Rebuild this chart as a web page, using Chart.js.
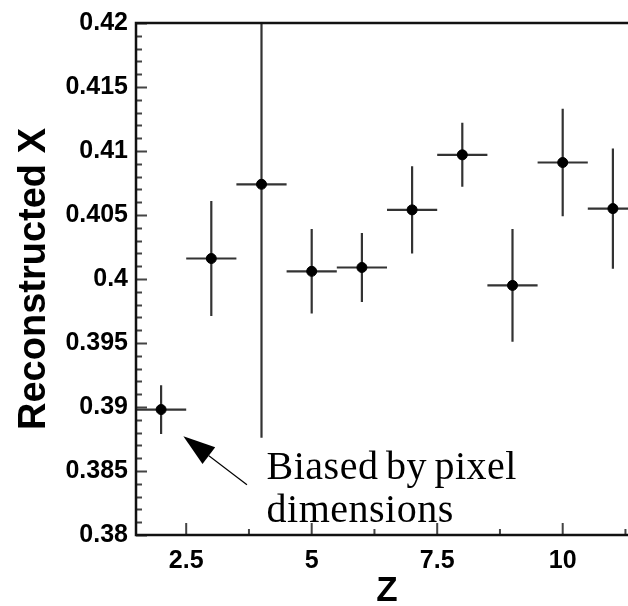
<!DOCTYPE html>
<html>
<head>
<meta charset="utf-8">
<script src="https://cdn.jsdelivr.net/npm/chart.js@4/dist/chart.umd.min.js"></script>
<style>
  html, body { margin: 0; padding: 0; background: #fff; width: 628px; height: 606px; overflow: hidden; }
  #wrap { width: 644px; height: 606px; position: relative; }
</style>
</head>
<body>
<div id="wrap"><canvas id="myChart"></canvas></div>
<script>
'use strict';
// reconstructed X versus Z, with error bars
let zValues = [2, 3, 4, 5, 6, 7, 8, 9, 10, 11];
let zErrors = [0.5, 0.5, 0.5, 0.5, 0.5, 0.5, 0.5, 0.5, 0.5, 0.5];
let recoX = [0.3898, 0.4016, 0.4074, 0.4006, 0.4009, 0.4054, 0.4097, 0.3995, 0.4091, 0.4055];
let recoXErrors = [0.0019, 0.0045, 0.0198, 0.0033, 0.0027, 0.0034, 0.0025, 0.0044, 0.0042, 0.0047];

let zTicks = [2.5, 5, 7.5, 10];
let zMinorTicks = [3.75, 6.25, 8.75, 11.25];
let yTicks = [0.38, 0.385, 0.39, 0.395, 0.4, 0.405, 0.41, 0.415, 0.42];
let yMinorStep = 0.001;

// annotation (in data units)
let noteText = ['Biased by pixel', 'dimensions'];
let noteAt = { x: 4.1, y1: 0.38439, y2: 0.381 };
let arrowFrom = { x: 3.71, y: 0.38393 };
let arrowTo = { x: 2.444, y: 0.38771 };

let points = [];
for (let i = 0; i < zValues.length; i++) {
    points.push({ x: zValues[i], y: recoX[i] });
}

let errorBars = {
    id: 'errorBars',
    beforeDatasetsDraw(chart) {
        let ctx = chart.ctx;
        let xs = chart.scales.x;
        let ys = chart.scales.y;
        let area = chart.chartArea;
        ctx.save();
        ctx.beginPath();
        ctx.rect(area.left, area.top, area.right - area.left, area.bottom - area.top);
        ctx.clip();
        ctx.strokeStyle = '#333';
        ctx.lineWidth = 2.2;
        for (let i = 0; i < zValues.length; i++) {
            let px = xs.getPixelForValue(zValues[i]);
            let py = ys.getPixelForValue(recoX[i]);
            ctx.beginPath();
            ctx.moveTo(px, ys.getPixelForValue(recoX[i] - recoXErrors[i]));
            ctx.lineTo(px, ys.getPixelForValue(recoX[i] + recoXErrors[i]));
            ctx.moveTo(xs.getPixelForValue(zValues[i] - zErrors[i]), py);
            ctx.lineTo(xs.getPixelForValue(zValues[i] + zErrors[i]), py);
            ctx.stroke();
        }
        ctx.restore();
    },
    afterDatasetsDraw(chart) {
        let ctx = chart.ctx;
        let xs = chart.scales.x;
        let ys = chart.scales.y;
        let area = chart.chartArea;
        ctx.save();
        // inward tick marks
        ctx.strokeStyle = '#444';
        ctx.lineWidth = 2;
        ctx.beginPath();
        for (let v = 0.38; v <= 0.42 + 1e-9; v += yMinorStep) {
            let py = Math.round(ys.getPixelForValue(v)) + 0.5;
            let major = yTicks.some(t => Math.abs(t - v) < 1e-7);
            ctx.moveTo(area.left, py);
            ctx.lineTo(area.left + (major ? 11 : 6), py);
        }
        zTicks.forEach(t => {
            let px = xs.getPixelForValue(t);
            ctx.moveTo(px, area.bottom);
            ctx.lineTo(px, area.bottom - 12);
        });
        zMinorTicks.forEach(t => {
            let px = xs.getPixelForValue(t);
            ctx.moveTo(px, area.bottom);
            ctx.lineTo(px, area.bottom - 6);
        });
        ctx.stroke();
        // frame
        ctx.strokeStyle = '#111';
        ctx.lineWidth = 2.5;
        ctx.strokeRect(area.left, area.top, area.right - area.left, area.bottom - area.top);

        // annotation arrow
        let tx = xs.getPixelForValue(arrowTo.x), ty = ys.getPixelForValue(arrowTo.y);
        let fx = xs.getPixelForValue(arrowFrom.x), fy = ys.getPixelForValue(arrowFrom.y);
        let ang = Math.atan2(ty - fy, tx - fx);
        let headLen = 32, headHalf = 10.5;
        let bx = tx - headLen * Math.cos(ang), by = ty - headLen * Math.sin(ang);
        ctx.strokeStyle = '#000';
        ctx.lineWidth = 1.2;
        ctx.beginPath();
        ctx.moveTo(fx, fy);
        ctx.lineTo(bx, by);
        ctx.stroke();
        ctx.fillStyle = '#000';
        ctx.beginPath();
        ctx.moveTo(tx, ty);
        ctx.lineTo(bx + headHalf * Math.sin(ang), by - headHalf * Math.cos(ang));
        ctx.lineTo(bx - headHalf * Math.sin(ang), by + headHalf * Math.cos(ang));
        ctx.closePath();
        ctx.fill();

        ctx.font = '40px "Liberation Serif", serif';
        ctx.textAlign = 'left';
        ctx.textBaseline = 'alphabetic';
        ctx.letterSpacing = '0.5px';
        ctx.wordSpacing = '-3px';
        let nx = xs.getPixelForValue(noteAt.x);
        ctx.fillText(noteText[0], nx, ys.getPixelForValue(noteAt.y1));
        ctx.fillText(noteText[1], nx, ys.getPixelForValue(noteAt.y2));
        ctx.restore();
    }
};

let ctx = document.getElementById('myChart').getContext('2d');
let myChart = new Chart(ctx, {
    type: 'scatter',
    data: {
        datasets: [{
            label: 'Reconstructed X',
            data: points,
            backgroundColor: '#000',
            borderColor: '#000',
            pointRadius: 5,
            pointHoverRadius: 5
        }]
    },
    options: {
        responsive: true,
        maintainAspectRatio: false,
        animation: false,
        layout: { padding: { top: 16, left: 0, right: 0, bottom: 0 } },
        plugins: {
            legend: { display: false },
            tooltip: { enabled: false }
        },
        scales: {
            x: {
                type: 'linear',
                min: 1.5,
                max: 11.5,
                grid: { display: false, drawTicks: false },
                border: { display: false },
                afterFit: function (scale) { scale.height = 71; },
                afterBuildTicks: function (scale) {
                    scale.ticks = zTicks.map(v => ({ value: v }));
                },
                ticks: {
                    padding: 11,
                    color: '#000',
                    maxRotation: 0,
                    font: { family: '"Liberation Sans", Arial, sans-serif', size: 25, weight: 'bold' },
                    callback: function (value) { return String(value); }
                },
                title: {
                    display: true,
                    text: 'Z',
                    color: '#000',
                    padding: 0,
                    font: { family: '"Liberation Sans", Arial, sans-serif', size: 35, weight: 'bold', lineHeight: 0.86 }
                }
            },
            y: {
                type: 'linear',
                min: 0.38,
                max: 0.42,
                grid: { display: false, drawTicks: false },
                border: { display: false },
                afterFit: function (scale) { scale.width = 136; },
                afterBuildTicks: function (scale) {
                    scale.ticks = yTicks.map(v => ({ value: v }));
                },
                ticks: {
                    padding: 8,
                    color: '#000',
                    font: { family: '"Liberation Sans", Arial, sans-serif', size: 25, weight: 'bold' },
                    callback: function (value) { return String(value); }
                },
                title: {
                    display: true,
                    text: 'Reconstructed X',
                    color: '#000',
                    padding: { top: 16, bottom: 0 },
                    font: { family: '"Liberation Sans", Arial, sans-serif', size: 38, weight: 'bold', lineHeight: 1 }
                }
            }
        }
    },
    plugins: [errorBars]
});
</script>
</body>
</html>
